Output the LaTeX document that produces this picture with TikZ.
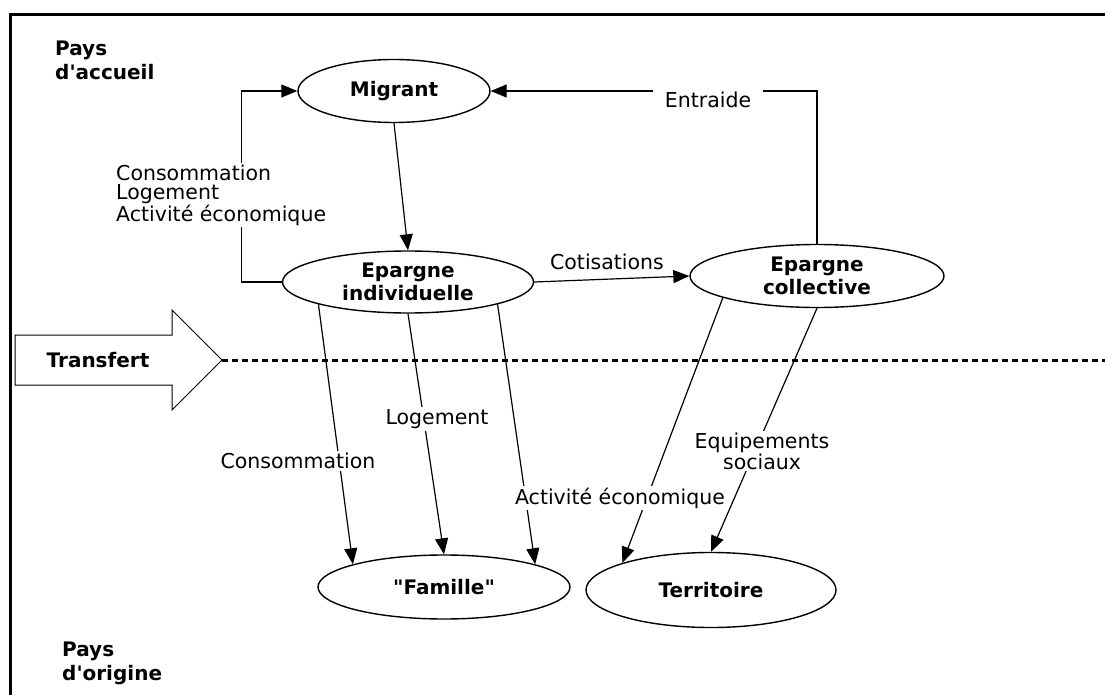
\documentclass[tikz,border=0pt]{standalone}
\usepackage{fontspec}
\setmainfont{DejaVu Sans}[Ligatures=TeXOff]
\usetikzlibrary{shapes.geometric,arrows.meta}
\begin{document}
\begin{tikzpicture}[x=1pt,y=-1pt,
  ell/.style={draw, ellipse, line width=1.4pt, inner sep=0pt, align=center,
    font=\bfseries\fontsize{20}{23}\selectfont},
  conn/.style={line width=1.2pt, -{Triangle[length=16pt,width=13pt]}},
  lab/.style={fill=white, inner sep=2pt, align=center,
    font=\fontsize{20.5}{19.5}\selectfont},
  ttl/.style={inner sep=0pt, align=left, anchor=west,
    font=\bfseries\fontsize{20}{24}\selectfont}]
\useasboundingbox (0,0) rectangle (1105,695);
\fill[white] (0,0) rectangle (1105,695);
% frame
\draw[line width=3pt] (8.5,15) -- (1105,15);
\draw[line width=3pt] (10,13.5) -- (10,695);
% zone titles
\node[ttl] (pa) at (55,60) {Pays\\d'accueil};
\node[ttl] (po) at (62,663) {Pays\\d'origine};
% transfer arrow and border line
\coordinate (tip) at (222,360);
\coordinate (dend) at (1105,360);
\draw[line width=1pt, line join=miter] (15,335) -- (172,335) -- (172,310) -- (tip)
  -- (172,410) -- (172,385) -- (15,385) -- cycle;
\node[font=\bfseries\fontsize{20}{24}\selectfont] (trf) at (98,360) {Transfert};
\draw[line width=3pt, dash pattern=on 6pt off 4pt] (tip) -- (dend);
% nodes
\node[ell, minimum width=192pt, minimum height=63pt] (mig) at (394,91) {Migrant};
\node[ell, minimum width=251pt, minimum height=62pt] (ei) at (408,282) {Epargne\\individuelle};
\node[ell, minimum width=254pt, minimum height=63pt] (ec) at (817,276) {Epargne\\collective};
\node[ell, minimum width=252pt, minimum height=64pt] (fam) at (444,587) {"Famille"};
\node[ell, minimum width=250pt, minimum height=75pt] (ter) at (711,590) {Territoire};
% connectors
\draw[conn] (mig.south) -- (ei.north);
\draw[conn] (ei.west) -- ++(-40,0) |- (mig.west);
\draw[conn] (ec.north) |- (mig.east);
\draw[conn] (ei.east) -- (ec.west);
\draw[conn] (ei.194) -- (fam.166);
\draw[conn] (ei.south) -- (fam.north);
\draw[conn] (ei.-14) -- (fam.14);
\draw[conn] (ec.193) -- (ter.163);
\draw[conn] (ec.south) -- (ter.north);
% labels
\node[lab] (lcot) at (607,262) {Cotisations};
\node[lab, inner xsep=12pt] (lent) at (708,100) {Entraide};
\node[lab, align=left, anchor=west, inner sep=1pt] (lleft) at (115,195)
  {Consommation\\Logement\\Activité économique};
\node[lab] (llog) at (437,419) {Logement};
\node[lab] (lcons) at (298,461) {Consommation};
\node[lab] (lact) at (620,498) {Activité économique};
\node[lab] (lequ) at (762,451) {Equipements\\sociaux};
\end{tikzpicture}
\end{document}
